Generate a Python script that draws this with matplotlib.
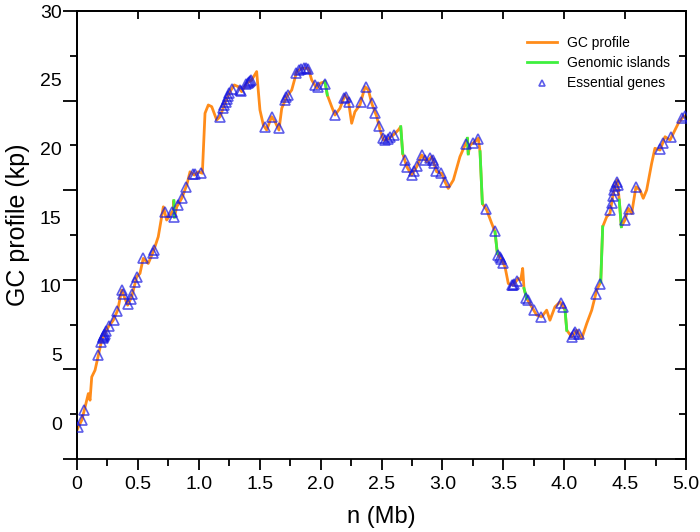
import numpy as np
import matplotlib.pyplot as plt
from matplotlib.ticker import FixedLocator, NullFormatter

plt.rcParams['font.family'] = ['Liberation Sans', 'DejaVu Sans']

# cumulative GC profile, position in Mb
gc_x = [0.0, 0.011, 0.039, 0.060, 0.093, 0.107, 0.121, 0.148, 0.175, 0.203,
        0.230, 0.257, 0.298, 0.334, 0.367, 0.388, 0.416, 0.449, 0.490, 0.517,
        0.544, 0.585, 0.626, 0.667, 0.709, 0.736, 0.764, 0.791, 0.795, 0.800,
        0.819, 0.860, 0.901, 0.928, 0.963, 0.996, 1.029, 1.051, 1.078, 1.106,
        1.147, 1.174, 1.215, 1.256, 1.291, 1.324, 1.352, 1.393, 1.434, 1.475,
        1.502, 1.530, 1.557, 1.598, 1.626, 1.658, 1.681, 1.722, 1.763, 1.804,
        1.845, 1.899, 1.927, 1.968, 1.995, 2.036, 2.055, 2.091, 2.118, 2.159,
        2.200, 2.227, 2.255, 2.282, 2.323, 2.365, 2.392, 2.420, 2.461, 2.488,
        2.515, 2.543, 2.597, 2.638, 2.658, 2.674, 2.707, 2.748, 2.789, 2.830,
        2.871, 2.912, 2.953, 2.994, 3.021, 3.048, 3.090, 3.144, 3.186, 3.205,
        3.212, 3.227, 3.268, 3.295, 3.309, 3.328, 3.364, 3.405, 3.432, 3.451,
        3.487, 3.514, 3.541, 3.582, 3.623, 3.643, 3.659, 3.670, 3.692, 3.733,
        3.774, 3.815, 3.856, 3.883, 3.924, 3.966, 4.007, 4.021, 4.062, 4.103,
        4.144, 4.185, 4.226, 4.267, 4.300, 4.316, 4.349, 4.376, 4.398, 4.417,
        4.436, 4.452, 4.469, 4.499, 4.526, 4.554, 4.589, 4.622, 4.649, 4.677,
        4.718, 4.745, 4.787, 4.828, 4.869, 4.910, 4.937, 4.978, 5.0]
gc_y = [-0.5, -0.27, 0.22, 0.95, 2.16, 1.68, 3.37, 3.86, 4.95, 6.05,
        6.53, 7.01, 7.50, 8.23, 9.69, 9.20, 8.59, 9.20, 10.66, 10.90,
        12.00, 11.63, 12.48, 13.57, 15.75, 14.79, 15.15, 15.51, 16.20, 15.00,
        15.75, 16.37, 17.33, 18.30, 18.06, 18.30, 18.19, 22.56, 23.16, 23.04,
        22.07, 22.31, 23.28, 24.13, 24.62, 24.49, 24.13, 24.74, 24.98, 25.59,
        22.80, 21.70, 21.34, 22.31, 21.94, 21.34, 22.92, 23.77, 24.25, 25.59,
        25.83, 25.83, 24.98, 24.38, 24.74, 24.86, 23.89, 23.04, 22.43, 22.92,
        23.89, 23.53, 21.83, 22.67, 23.16, 24.49, 24.25, 23.28, 22.31, 21.34,
        20.61, 20.61, 20.98, 21.34, 21.58, 19.64, 18.67, 18.06, 18.67, 19.52,
        19.03, 19.40, 18.30, 18.19, 17.57, 17.09, 17.70, 19.40, 20.25, 20.74,
        19.60, 20.25, 20.49, 20.74, 19.76, 16.00, 15.51, 14.54, 13.93, 12.36,
        11.87, 11.38, 10.17, 10.05, 10.54, 10.42, 11.27, 9.81, 9.08, 8.47,
        7.87, 7.74, 8.23, 7.50, 8.47, 8.83, 8.23, 6.77, 6.29, 6.77,
        6.17, 7.26, 8.23, 9.69, 10.29, 14.30, 15.03, 15.27, 16.48, 17.21,
        17.70, 16.24, 14.30, 14.79, 15.64, 15.27, 17.21, 16.97, 16.37, 16.97,
        18.91, 20.01, 19.88, 20.85, 20.61, 21.34, 21.83, 22.31, 22.40]

# genomic islands (start, end in Mb)
island_start = [0.795, 2.036, 2.658, 3.205, 3.309, 3.432, 3.670, 4.007, 4.300, 4.452]
island_end = [0.800, 2.055, 2.674, 3.212, 3.328, 3.451, 3.692, 4.021, 4.316, 4.469]

# essential gene positions (Mb)
gene_x = [0.011, 0.038, 0.06, 0.175, 0.20, 0.21, 0.215, 0.22, 0.225, 0.23,
          0.24, 0.26, 0.30, 0.33, 0.367, 0.38, 0.42, 0.44, 0.455, 0.48,
          0.49, 0.545, 0.62, 0.63, 0.72, 0.78, 0.80, 0.83, 0.86, 0.895,
          0.955, 0.97, 1.02, 1.17, 1.20, 1.21, 1.22, 1.23, 1.24, 1.25,
          1.27, 1.34, 1.35, 1.39, 1.40, 1.41, 1.42, 1.43, 1.54, 1.60,
          1.66, 1.71, 1.72, 1.73, 1.80, 1.82, 1.84, 1.86, 1.88, 1.90,
          1.95, 1.975, 2.04, 2.12, 2.19, 2.21, 2.23, 2.33, 2.37, 2.42,
          2.45, 2.48, 2.51, 2.53, 2.55, 2.57, 2.60, 2.69, 2.71, 2.75,
          2.77, 2.79, 2.83, 2.86, 2.90, 2.92, 2.93, 2.95, 2.99, 3.02,
          3.19, 3.25, 3.29, 3.36, 3.43, 3.46, 3.47, 3.48, 3.50, 3.57,
          3.58, 3.59, 3.61, 3.69, 3.70, 3.75, 3.81, 3.97, 3.99, 4.06,
          4.08, 4.09, 4.12, 4.26, 4.29, 4.38, 4.39, 4.40, 4.41, 4.42,
          4.43, 4.44, 4.50, 4.53, 4.59, 4.79, 4.81, 4.88, 4.97, 4.99]

xtick_vals = [0, 0.5, 1.0, 1.5, 2.0, 2.5, 3.0, 3.5, 4.0, 4.5, 5.0]
xtick_labels = ['0', '0.5', '1.0', '1.5', '2.0', '2.5', '3.0', '3.5', '4.0', '4.5', '5.0']
ytick_vals = [0, 5, 10, 15, 20, 25, 30]

orange = '#ff8c1a'
green = '#3ef03e'
tri = '#1818e0'

fig = plt.figure(figsize=(7, 5.32), dpi=100)
ax = fig.add_axes([0.11, 1 - 459 / 532, 609 / 700, 448 / 532])

ax.plot(gc_x, gc_y, color=orange, lw=2, zorder=2, label='GC profile')
for i, (a, b) in enumerate(zip(island_start, island_end)):
    xs = [a] + [x for x in gc_x if a < x < b] + [b]
    ys = np.interp(xs, gc_x, gc_y)
    ax.plot(xs, ys, color=green, lw=2, zorder=3,
            label='Genomic islands' if i == 0 else None)
gene_y = np.interp(gene_x, gc_x, gc_y)
ax.plot(gene_x, gene_y, ls='none', marker='^', ms=6.5, mfc='none', mec=tri,
        mew=1.2, alpha=0.7, zorder=4, label='Essential genes')

ymin, ymax = -2.6, 30
ax.set_xlim(0, 5)
ax.set_ylim(ymin, ymax)

for s in ax.spines.values():
    s.set_linewidth(1.3)

ax.set_xticks(xtick_vals)
ax.set_xticklabels(xtick_labels)
ax.set_xticks(np.arange(0.25, 5, 0.5), minor=True)
ax.tick_params(axis='x', which='major', direction='out', length=8, width=1.3,
               labelsize=14, pad=4)
ax.tick_params(axis='x', which='minor', direction='out', length=5, width=1.3)

# y labels sit on their own scale, tick marks are evenly spaced over the frame
ax.set_yticks(ytick_vals)
ax.set_yticklabels([str(v) for v in ytick_vals])
ax.tick_params(axis='y', which='both', length=0, labelsize=14, pad=11)

marks = np.linspace(ymin, ymax, 11)
for side, d, lmaj, lmin in [('left', 'out', 10, 5), ('right', 'in', 8, 5)]:
    sec = ax.secondary_yaxis(side)
    sec.yaxis.set_major_locator(FixedLocator(marks[::2]))
    sec.yaxis.set_minor_locator(FixedLocator(marks[1::2]))
    sec.yaxis.set_major_formatter(NullFormatter())
    sec.tick_params(which='major', direction=d, length=lmaj, width=1.3)
    sec.tick_params(which='minor', direction=d, length=lmin, width=1.3)
    sec.spines[side].set_linewidth(1.3)

top = ax.secondary_xaxis('top')
top.xaxis.set_major_locator(FixedLocator(xtick_vals))
top.xaxis.set_major_formatter(NullFormatter())
top.tick_params(direction='in', length=6, width=1.3)
top.spines['top'].set_linewidth(1.3)

fig.text(0.026, 1 - 225 / 532, 'GC profile (kp)', rotation=90, fontsize=18,
         ha='center', va='center')
fig.text((77 + 686) / 2 / 700, 1 - 517 / 532, 'n (Mb)', fontsize=17,
         ha='center', va='center')

ax.legend(loc='upper right', bbox_to_anchor=(0.985, 0.96), frameon=False,
          fontsize=10, borderpad=0, handlelength=2.2, handletextpad=0.7,
          labelspacing=0.45, markerscale=0.6)

fig.savefig('out.png', dpi=100)
